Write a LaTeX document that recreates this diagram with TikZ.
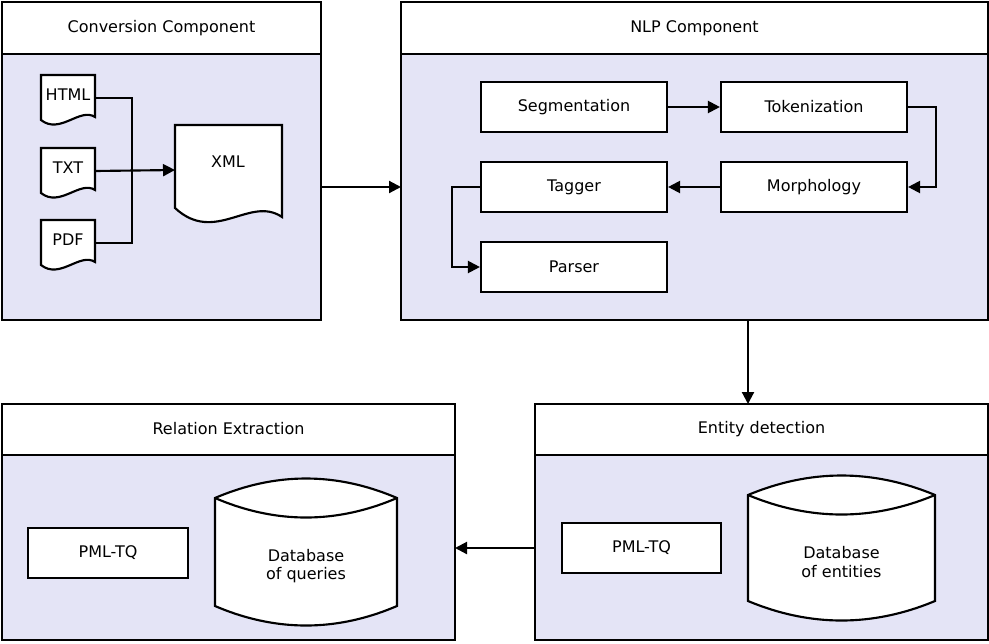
\documentclass[tikz,border=0pt]{standalone}
\usepackage{fontspec}
\setmainfont{DejaVu Sans}
\usetikzlibrary{arrows.meta}
\definecolor{panel}{RGB}{228,228,246}
\begin{document}
\begin{tikzpicture}
[x=0.75pt,y=-0.75pt,line width=1.6pt,%
  every node/.style={font=\fontsize{12}{14}\selectfont},%
  frame/.style={draw,fill=panel},%
  head/.style={draw,fill=white},%
  stage/.style={draw,fill=white,rectangle,minimum width=139.5pt,minimum height=37.5pt,inner sep=0pt},%
  flow/.style={-{Triangle[length=9pt,width=9pt]}}]
\useasboundingbox (0,0) rectangle (989,643);
% panels
\draw[frame] (2,2) rectangle (321,320);
\draw[head] (2,2) rectangle (321,54);
\node (conv) at (161.5,28) {Conversion Component};
\draw[frame] (401,2) rectangle (988,320);
\draw[head] (401,2) rectangle (988,54);
\node (nlp) at (694.5,28) {NLP Component};
\draw[frame] (2,404) rectangle (455,640);
\draw[head] (2,404) rectangle (455,455);
\node (rel) at (228.5,429) {Relation Extraction};
\draw[frame] (535,404) rectangle (988,640);
\draw[head] (535,404) rectangle (988,455);
\node (ent) at (761.5,429) {Entity detection};
\coordinate (convE) at (321,187);
\coordinate (nlpW) at (401,187);
\coordinate (nlpS) at (748,320);
\coordinate (entN) at (748,404);
\coordinate (entW) at (535,548);
\coordinate (relE) at (455,548);
% documents
\foreach \name/\txt/\y in {html/HTML/75,txt/TXT/148,pdf/PDF/220}{
  \draw[fill=white] (41,\y) -- (95,\y) -- (95,\y+42)
    .. controls (80,\y+32) and (60,\y+60) .. (41,\y+45) -- cycle;
  \node (\name) at (68,\y+20) {\txt};
  \coordinate (\name E) at (95,\y+23);
}
\draw[fill=white] (175,125) -- (282,125) -- (282,217)
  .. controls (250,195) and (215,245) .. (175,208) -- cycle;
\node (xml) at (228,162) {XML};
\coordinate (xmlW) at (175,170);
\draw (htmlE) -- (132,98) |- (pdfE);
\draw[flow] (txtE) -- (xmlW);
% NLP steps
\node[stage] (seg) at (574,107) {Segmentation};
\node[stage] (tok) at (814,107) {Tokenization};
\node[stage] (tag) at (574,187) {Tagger};
\node[stage] (mor) at (814,187) {Morphology};
\node[stage] (par) at (574,267) {Parser};
\draw[flow] (seg) -- (tok);
\draw[flow] (tok.east) -- ++(28,0) |- (mor.east);
\draw[flow] (mor) -- (tag);
\draw[flow] (tag.west) -- ++(-28,0) |- (par.west);
% databases
\foreach \name/\x/\y/\w/\h/\txt in {dbq/215/478/182/148/{Database\\of queries},dbe/748/475/187/146/{Database\\of entities}}{
  \draw[fill=white] (\x,\y+20) .. controls (\x+\w/3,\y-6) and (\x+2*\w/3,\y-6) .. (\x+\w,\y+20)
    -- (\x+\w,\y+\h-20) .. controls (\x+2*\w/3,\y+\h+6) and (\x+\w/3,\y+\h+6) .. (\x,\y+\h-20) -- cycle;
  \draw (\x,\y+20) .. controls (\x+\w/3,\y+46) and (\x+2*\w/3,\y+46) .. (\x+\w,\y+20);
  \node[align=center] (\name) at (\x+\w/2,\y+\h/2+14) {\txt};
}
\node[stage,minimum width=120pt] (pmlr) at (108,553) {PML-TQ};
\node[stage,minimum width=119pt] (pmle) at (641.5,548) {PML-TQ};
% links between panels
\draw[flow] (convE) -- (nlpW);
\draw[flow] (nlpS) -- (entN);
\draw[flow] (entW) -- (relE);
\end{tikzpicture}
\end{document}
